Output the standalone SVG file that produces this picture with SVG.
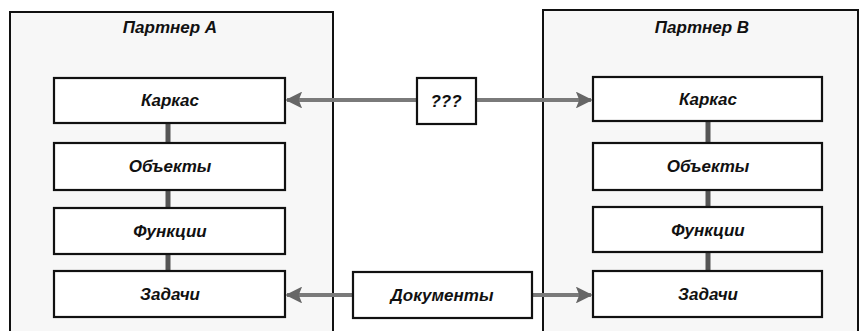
<svg xmlns="http://www.w3.org/2000/svg" width="865" height="331" viewBox="0 0 865 331">
  <style>
    .frame { fill: #f7f7f7; stroke: #111; stroke-width: 2; }
    .box { fill: #fff; stroke: #111; stroke-width: 2.2; }
    .lbl { font-family: "Liberation Sans", Arial, sans-serif; font-size: 17px; font-weight: bold; font-style: italic; fill: #111; text-anchor: middle; }
    .link { stroke: #555; stroke-width: 5; fill: none; }
    .flow { stroke: #7a7a7a; stroke-width: 4; fill: none; }
  </style>
  <defs>
    <marker id="head" viewBox="0 0 10 10" refX="9" refY="5" markerWidth="5.5" markerHeight="4.2" markerUnits="strokeWidth" orient="auto-start-reverse">
      <path d="M0,0 L10,5 L0,10 L2,5 Z" fill="#666"/>
    </marker>
  </defs>

  <rect width="865" height="331" fill="#fff"/>

  <g id="partner-a">
    <rect class="frame" x="10" y="12" width="323" height="330"/>
    <text class="lbl" x="170" y="33">Партнер А</text>
  </g>
  <g id="partner-b">
    <rect class="frame" x="543" y="10" width="315" height="332"/>
    <text class="lbl" x="702" y="33">Партнер В</text>
  </g>

  <g id="connectors">
    <line class="link" x1="168" y1="123" x2="168" y2="143"/>
    <line class="link" x1="168" y1="190" x2="168" y2="208"/>
    <line class="link" x1="168" y1="254" x2="168" y2="271"/>
    <line class="link" x1="708" y1="121" x2="708" y2="143"/>
    <line class="link" x1="708" y1="190" x2="708" y2="207"/>
    <line class="link" x1="708" y1="252" x2="708" y2="271"/>
    <line class="flow" x1="417" y1="100" x2="287" y2="100" marker-end="url(#head)"/>
    <line class="flow" x1="476" y1="100" x2="591" y2="100" marker-end="url(#head)"/>
    <line class="flow" x1="353" y1="295" x2="287" y2="295" marker-end="url(#head)"/>
    <line class="flow" x1="532" y1="295" x2="591" y2="295" marker-end="url(#head)"/>
  </g>

  <g id="a-karkas"><rect class="box" x="54" y="78" width="231" height="45"/><text class="lbl" x="170" y="106">Каркас</text></g>
  <g id="a-objects"><rect class="box" x="54" y="143" width="231" height="47"/><text class="lbl" x="170" y="172">Объекты</text></g>
  <g id="a-functions"><rect class="box" x="54" y="208" width="231" height="46"/><text class="lbl" x="170" y="237">Функции</text></g>
  <g id="a-tasks"><rect class="box" x="54" y="271" width="231" height="46"/><text class="lbl" x="170" y="300">Задачи</text></g>

  <g id="b-karkas"><rect class="box" x="593" y="77" width="229" height="44"/><text class="lbl" x="708" y="105">Каркас</text></g>
  <g id="b-objects"><rect class="box" x="593" y="143" width="229" height="47"/><text class="lbl" x="708" y="172">Объекты</text></g>
  <g id="b-functions"><rect class="box" x="593" y="207" width="229" height="45"/><text class="lbl" x="708" y="236">Функции</text></g>
  <g id="b-tasks"><rect class="box" x="593" y="271" width="229" height="46"/><text class="lbl" x="708" y="300">Задачи</text></g>

  <g id="unknown"><rect class="box" x="417" y="78" width="59" height="46"/><text class="lbl" x="446" y="107">???</text></g>
  <g id="documents"><rect class="box" x="353" y="272" width="179" height="46"/><text class="lbl" x="442" y="301">Документы</text></g>
</svg>
